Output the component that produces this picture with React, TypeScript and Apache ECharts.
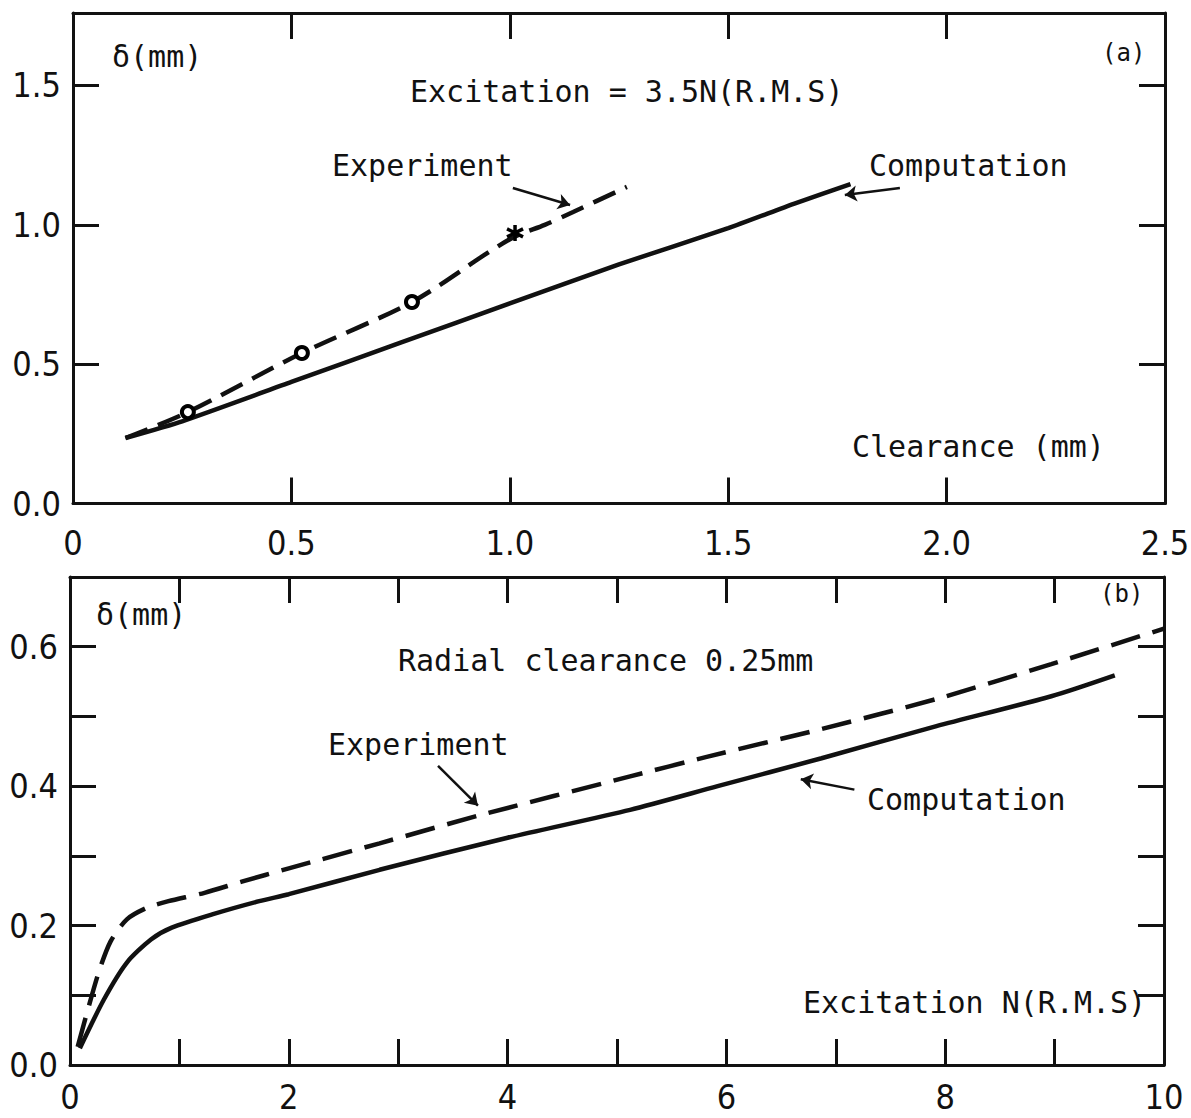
import React, { useEffect, useRef } from "react";
import * as echarts from "echarts";

// ---------- Panel (a): δ vs clearance, excitation 3.5 N ----------
const panelAComputation: [number, number][] = [
  [0.12, 0.235], [0.25, 0.295], [0.5, 0.436], [0.75, 0.577], [1.0, 0.718],
  [1.25, 0.858], [1.5, 0.988], [1.65, 1.075], [1.78, 1.146],
];
const panelAExperiment: [number, number][] = [
  [0.12, 0.235], [0.263, 0.328], [0.524, 0.54], [0.776, 0.723], [0.95, 0.9],
  [1.012, 0.958], [1.08, 1.0], [1.145, 1.046], [1.268, 1.136],
];
const panelAExperimentCircles: [number, number][] = [
  [0.263, 0.328], [0.524, 0.54], [0.776, 0.723],
];
const panelAExperimentStar: [number, number][] = [[1.012, 0.971]];

// ---------- Panel (b): δ vs excitation, radial clearance 0.25 mm ----------
const panelBComputation: [number, number][] = [
  [0.09, 0.024], [0.31, 0.094], [0.52, 0.147], [0.74, 0.18], [0.93, 0.197],
  [1.3, 0.216], [1.73, 0.235], [2.0, 0.245], [2.83, 0.28], [4.0, 0.326],
  [5.12, 0.366], [5.92, 0.4], [6.87, 0.44], [7.92, 0.486], [8.97, 0.529],
  [9.55, 0.559],
];
const panelBExperiment: [number, number][] = [
  [0.07, 0.026], [0.25, 0.127], [0.37, 0.177], [0.52, 0.209], [0.71, 0.226],
  [0.9, 0.235], [1.23, 0.247], [1.57, 0.263], [2.0, 0.282], [2.83, 0.318],
  [3.74, 0.358], [5.12, 0.414], [5.82, 0.442], [6.87, 0.482], [7.92, 0.525],
  [8.97, 0.575], [10.0, 0.626],
];

// annotation arrows (data coordinates)
const panelAArrowExperiment: [number, number][] = [[1.007, 1.132], [1.138, 1.071]];
const panelAArrowComputation: [number, number][] = [[1.893, 1.132], [1.767, 1.107]];
const panelBArrowExperiment: [number, number][] = [[3.364, 0.429], [3.729, 0.372]];
const panelBArrowComputation: [number, number][] = [[7.17, 0.395], [6.68, 0.41]];

const MONO = "'DejaVu Sans Mono', monospace";
const TICKFONT = "'Liberation Sans Narrow', 'DejaVu Sans Condensed', 'Liberation Sans', sans-serif";
const BLACK = "#111";

function axisBase(extra: any) {
  return {
    type: "value",
    splitLine: { show: false },
    axisLine: { show: true, onZero: false, lineStyle: { color: BLACK, width: 3 } },
    axisTick: { show: true, inside: true, length: 26, lineStyle: { color: BLACK, width: 3 } },
    ...extra,
  };
}

const labelStyle = { color: BLACK, fontSize: 34, fontFamily: TICKFONT };

function arrow(p: [number, number][]) {
  return [{ coord: p[0], symbol: "none" }, { coord: p[1], symbol: "arrow" }];
}

function annText(text: string, x: number, y: number, size = 30) {
  return {
    type: "text",
    x,
    y,
    style: { text, fontSize: size, fontFamily: MONO, fill: BLACK, verticalAlign: "middle", align: "left" },
  };
}

export default function App() {
  const ref = useRef<HTMLDivElement>(null);
  useEffect(() => {
    document.body.style.margin = "0";
    const chart = echarts.init(ref.current!, null, { renderer: "svg" });
    const option: any = {
      animation: false,
      backgroundColor: "#fff",
      grid: [
        { left: 73, top: 13, width: 1092, height: 490.5, outerBoundsMode: "none" },
        { left: 70, top: 577, width: 1094, height: 488, outerBoundsMode: "none" },
      ],
      xAxis: [
        axisBase({
          gridIndex: 0, position: "bottom", min: 0, max: 2.5, interval: 0.5,
          axisLabel: { ...labelStyle, margin: 22, formatter: (v: number) => (v === 0 ? "0" : v.toFixed(1)) },
        }),
        axisBase({ gridIndex: 0, position: "top", min: 0, max: 2.5, interval: 0.5, axisLabel: { show: false } }),
        axisBase({
          gridIndex: 1, position: "bottom", min: 0, max: 10, interval: 1,
          axisLabel: { ...labelStyle, margin: 15, formatter: (v: number) => (Math.round(v) % 2 === 0 ? String(v) : "") },
        }),
        axisBase({ gridIndex: 1, position: "top", min: 0, max: 10, interval: 1, axisLabel: { show: false } }),
      ],
      yAxis: [
        axisBase({
          gridIndex: 0, position: "left", min: 0, max: 1.76, interval: 0.5,
          axisLabel: {
            ...labelStyle, margin: 12,
            formatter: (v: number) => (Math.abs(v * 2 - Math.round(v * 2)) < 1e-6 ? v.toFixed(1) : ""),
          },
        }),
        axisBase({ gridIndex: 0, position: "right", min: 0, max: 1.76, interval: 0.5, axisLabel: { show: false } }),
        axisBase({
          gridIndex: 1, position: "left", min: 0, max: 0.7, interval: 0.1,
          axisLabel: {
            ...labelStyle, margin: 12,
            formatter: (v: number) => (Math.round(v * 10) % 2 === 0 ? v.toFixed(1) : ""),
          },
        }),
        axisBase({ gridIndex: 1, position: "right", min: 0, max: 0.7, interval: 0.1, axisLabel: { show: false } }),
      ],
      series: [
        {
          name: "Computation (a)", type: "line", xAxisIndex: 0, yAxisIndex: 0,
          data: panelAComputation, showSymbol: false, smooth: 0.2,
          lineStyle: { color: BLACK, width: 4.5 },
          markLine: {
            silent: true, symbolSize: 12, label: { show: false },
            lineStyle: { color: BLACK, width: 2.5, type: "solid" },
            data: [arrow(panelAArrowExperiment), arrow(panelAArrowComputation)],
          },
        },
        {
          name: "Experiment (a)", type: "line", xAxisIndex: 0, yAxisIndex: 0,
          data: panelAExperiment, showSymbol: false, smooth: 0.3,
          lineStyle: { color: BLACK, width: 4.5, type: [24, 11] },
        },
        {
          name: "Experiment points (a)", type: "scatter", xAxisIndex: 0, yAxisIndex: 0,
          data: panelAExperimentCircles, symbol: "circle", symbolSize: 12,
          itemStyle: { color: "#fff", borderColor: "#000", borderWidth: 4, opacity: 1 },
          z: 5,
        },
        {
          name: "Experiment star (a)", type: "scatter", xAxisIndex: 0, yAxisIndex: 0,
          data: panelAExperimentStar,
          symbol: "path://M10 0 L10 20 M1.3 5 L18.7 15 M1.3 15 L18.7 5",
          symbolSize: 16,
          itemStyle: { color: "none", borderColor: "#000", borderWidth: 3.5, opacity: 1 },
          z: 5,
        },
        {
          name: "Computation (b)", type: "line", xAxisIndex: 2, yAxisIndex: 2,
          data: panelBComputation, showSymbol: false, smooth: 0.25,
          lineStyle: { color: BLACK, width: 4.5 },
          markLine: {
            silent: true, symbolSize: 12, label: { show: false },
            lineStyle: { color: BLACK, width: 2.5, type: "solid" },
            data: [arrow(panelBArrowExperiment), arrow(panelBArrowComputation)],
          },
        },
        {
          name: "Experiment (b)", type: "line", xAxisIndex: 2, yAxisIndex: 2,
          data: panelBExperiment, showSymbol: false, smooth: 0.25,
          lineStyle: { color: BLACK, width: 4.5, type: [30, 13] },
        },
      ],
      graphic: [
        annText("δ(mm)", 112, 56),
        annText("Excitation = 3.5N(R.M.S)", 410, 91),
        annText("(a)", 1102, 53, 24),
        annText("Experiment", 332, 165),
        annText("Computation", 869, 165),
        annText("Clearance (mm)", 852, 446),
        annText("δ(mm)", 96, 614),
        annText("(b)", 1100, 594, 24),
        annText("Radial clearance 0.25mm", 398, 660),
        annText("Experiment", 328, 744),
        annText("Computation", 867, 799),
        annText("Excitation N(R.M.S)", 803, 1002),
      ],
    };
    chart.setOption(option);
    return () => chart.dispose();
  }, []);
  return <div ref={ref} style={{ width: 1191, height: 1118 }} />;
}
